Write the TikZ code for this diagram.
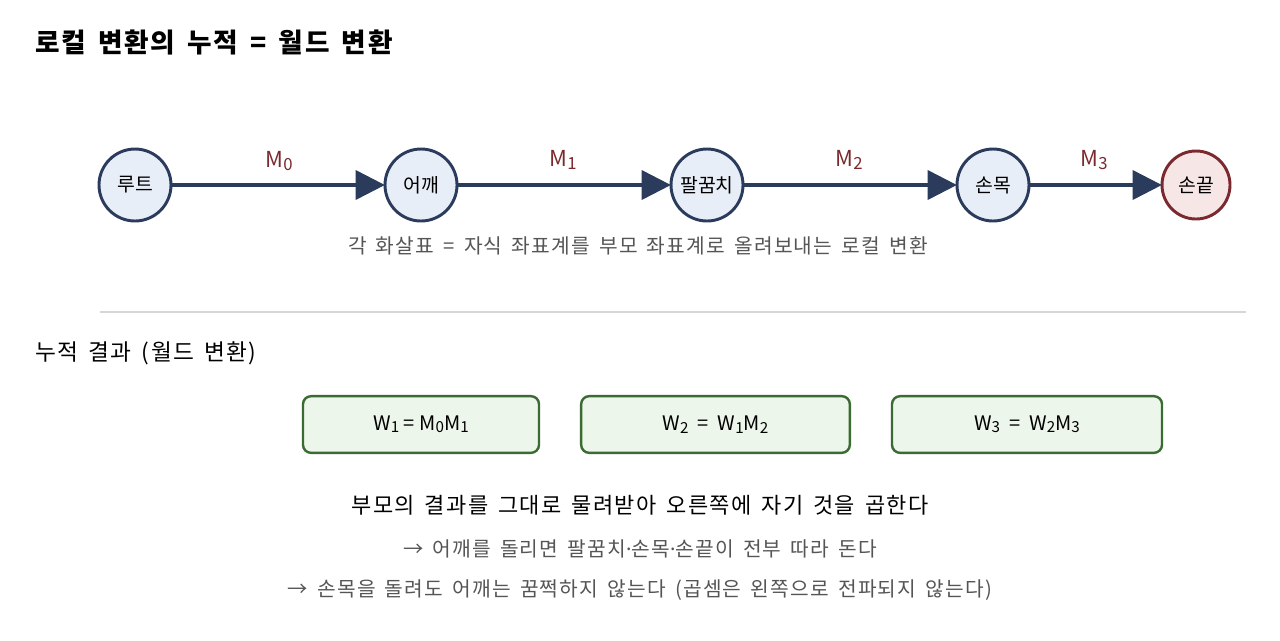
\documentclass[tikz,border=0pt]{standalone}
\usepackage{fontspec}
\usepackage{graphicx}
\setmainfont{Noto Sans CJK KR}
\newfontfamily\spacedfont{Noto Sans CJK KR}[LetterSpace=6, WordSpace=1.6]
\newfontfamily\latinfont{Noto Sans}
\usetikzlibrary{arrows.meta}
\newcommand\lowidx[1]{\raisebox{-0.12em}{\scalebox{0.76}{#1}}}
\newcommand\mdot{{\latinfont ·}}
\newcommand\eqgap{\hspace{0.45em}}
\definecolor{navy}{HTML}{2B3B5C}
\definecolor{nodefill}{HTML}{E8EEF8}
\definecolor{darkred}{HTML}{7A2A2E}
\definecolor{redfill}{HTML}{F7E6E6}
\definecolor{boxgreen}{HTML}{3A6B33}
\definecolor{boxfill}{HTML}{EDF6EA}
\definecolor{txtgray}{HTML}{555555}
\definecolor{rulegray}{HTML}{D6D6D6}
\tikzset{
  joint/.style={circle, draw=navy, fill=nodefill, line width=2.2pt, minimum size=54pt, inner sep=0pt, font=\fontsize{14.5}{17}\selectfont},
  tipjoint/.style={joint, draw=darkred, fill=redfill, minimum size=51pt},
  link/.style={draw=navy, line width=2.3pt, -{Triangle[length=22pt,width=22pt]}, shorten >=-1pt},
  mlabel/.style={text=darkred, font=\fontsize{16.5}{19}\selectfont},
  wbox/.style={draw=boxgreen, fill=boxfill, line width=1.8pt, rounded corners=6pt, inner sep=0pt, font=\fontsize{15}{18}\selectfont},
  note/.style={text=txtgray, font=\spacedfont\fontsize{15.2}{18}\selectfont},
}
\begin{document}
\begin{tikzpicture}[x=0.75pt,y=-0.75pt]
\useasboundingbox (0,0) rectangle (1280,640);
\node[anchor=west, inner sep=0pt, font=\spacedfont\bfseries\fontsize{20}{24}\selectfont] (title) at (35,42) {로컬 변환의 누적 = 월드 변환};
\node[joint] (root) at (135,185) {루트};
\node[joint] (shoulder) at (421,185) {어깨};
\node[joint] (elbow) at (707,185) {팔꿈치};
\node[joint] (wrist) at (993,185) {손목};
\node[tipjoint] (tip) at (1196,185) {손끝};
\draw[link] (root) -- (shoulder);
\draw[link] (shoulder) -- (elbow);
\draw[link] (elbow) -- (wrist);
\draw[link] (wrist) -- (tip);
\node[mlabel] (m0) at (279,161) {M\lowidx{0}};
\node[mlabel] (m1) at (563,160) {M\lowidx{1}};
\node[mlabel] (m2) at (849,160) {M\lowidx{2}};
\node[mlabel] (m3) at (1094,160) {M\lowidx{3}};
\node[note] (cap) at (638,246) {각 화살표 = 자식 좌표계를 부모 좌표계로 올려보내는 로컬 변환};
\coordinate (ra) at (100,312);
\coordinate (rb) at (1246,312);
\draw[rulegray, line width=1pt] (ra) -- (rb);
\node[anchor=west, inner sep=0pt, font=\spacedfont\fontsize{17}{20}\selectfont] (acc) at (35,353) {누적 결과 (월드 변환)};
\node[wbox, minimum width=177pt, minimum height=42.5pt] (w1) at (421,424.5) {W\lowidx{1} = M\lowidx{0}M\lowidx{1}};
\node[wbox, minimum width=201.5pt, minimum height=42.5pt] (w2) at (715.5,424.5) {W\lowidx{2}\eqgap=\eqgap W\lowidx{1}M\lowidx{2}};
\node[wbox, minimum width=202.5pt, minimum height=42.5pt] (w3) at (1027,424.5) {W\lowidx{3}\eqgap=\eqgap W\lowidx{2}M\lowidx{3}};
\node[font=\spacedfont\fontsize{16.5}{20}\selectfont] (rule) at (640,505) {부모의 결과를 그대로 물려받아 오른쪽에 자기 것을 곱한다};
\node[note] (n1) at (640,549) {→ 어깨를 돌리면 팔꿈치\mdot 손목\mdot 손끝이 전부 따라 돈다};
\node[note] (n2) at (640,590) {→ 손목을 돌려도 어깨는 꿈쩍하지 않는다 (곱셈은 왼쪽으로 전파되지 않는다)};
\end{tikzpicture}
\end{document}
